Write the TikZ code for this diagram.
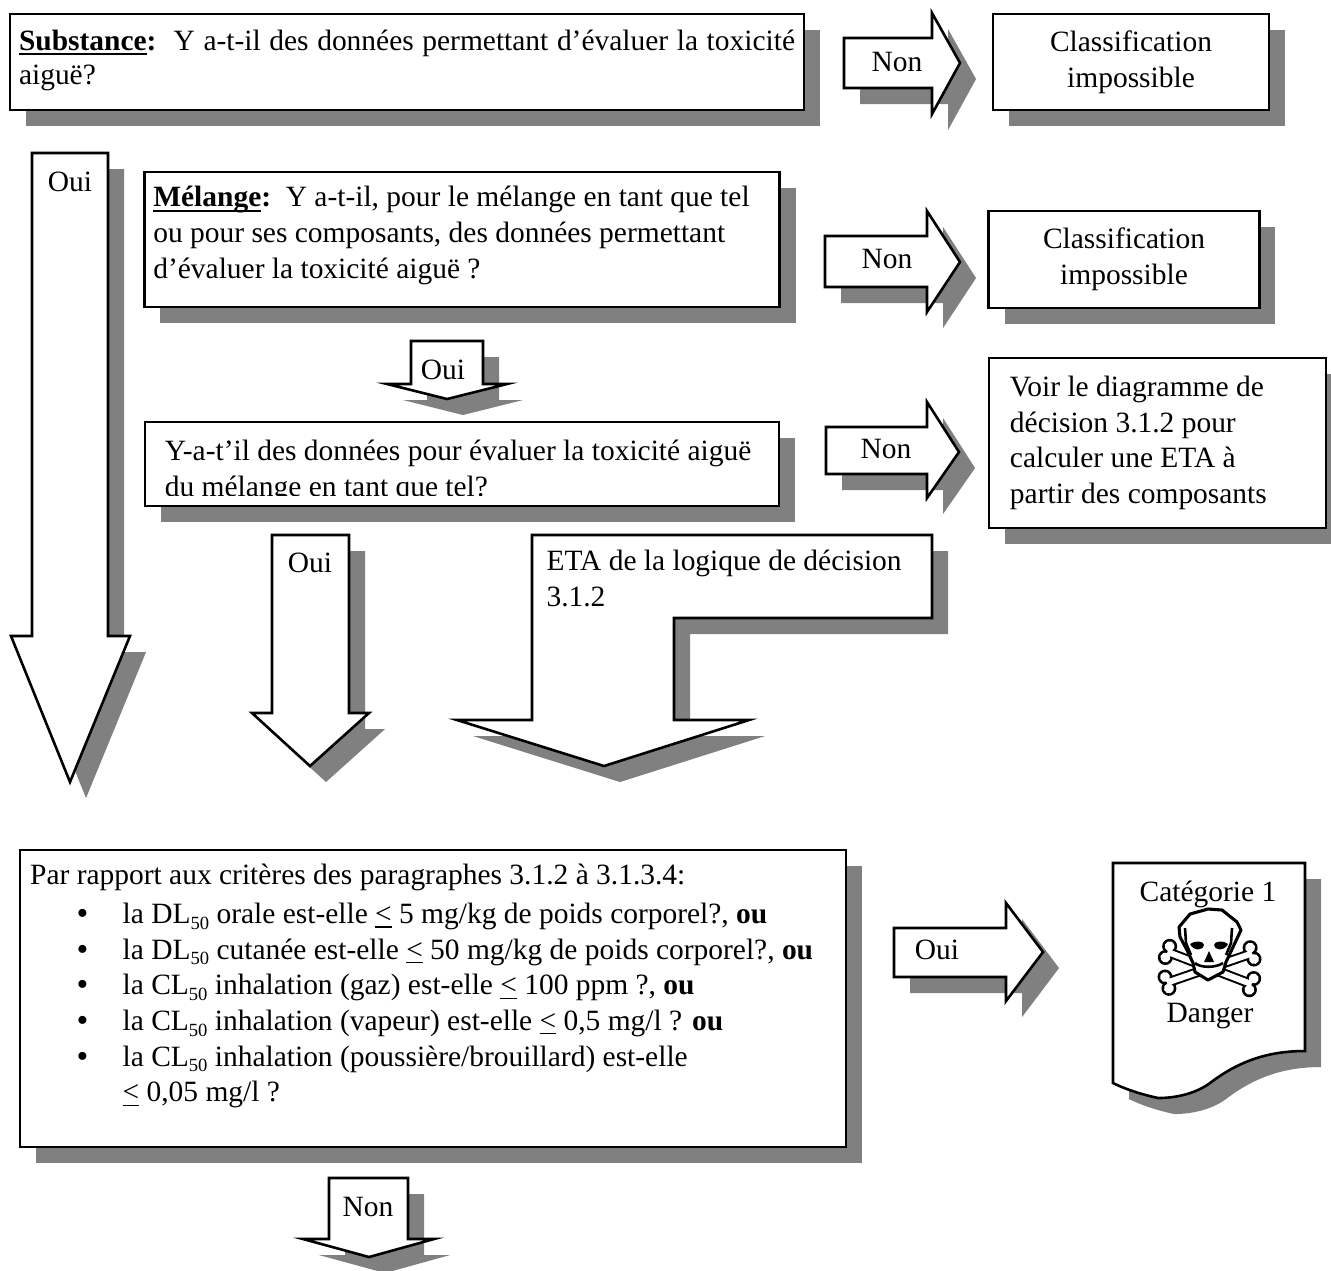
\documentclass[tikz,border=0pt]{standalone}
\usepackage{fontspec}
\setmainfont{Liberation Serif}
\usepackage{tikz}
\usepackage{xcolor}
\definecolor{ombre}{HTML}{808080}
\newcommand{\puce}{\hspace*{18pt}\makebox[17.8pt][l]{\raisebox{-0.4pt}{\fontsize{13}{13}\selectfont\textbullet}}}
\newcommand{\sous}[1]{\raisebox{-2.2pt}{\fontsize{7.2}{8}\selectfont #1}}
\newcommand{\souligne}[1]{\setbox0\hbox{\textbf{#1}}\rlap{\rule[-2pt]{\wd0}{0.8pt}}\box0}
\tikzset{
    ombrage/.style={preaction={fill=ombre,draw=none,transform canvas={shift={(6.2pt,-6.2pt)}}}},
    fleche/.style={draw,line width=1pt,fill=white,line join=miter,ombrage},
    boite/.style={draw,rectangle,line width=1pt,fill=white,ombrage,inner ysep=0pt,font=\fontsize{11.4}{13.8}\selectfont},
    libelle/.style={anchor=base,inner sep=0pt,font=\fontsize{11.4}{13.8}\selectfont}
}

\begin{document}
\begin{tikzpicture}[x=0.387pt,y=-0.387pt]
            \useasboundingbox (0,0) rectangle (1331,1270);

            \node[boite, minimum width=307.3pt, minimum height=37.2pt, inner xsep=3.5pt, text width=300.3pt, align=flush left] (substance) at (407,62) {\makebox[300.3pt][s]{\souligne{Substance}\textbf{:}\ \ Y a-t-il des données permettant d’évaluer la toxicité}\\[-0.6pt]aiguë?\rule[-4pt]{0pt}{4pt}};
            \draw[fleche] (844,38) -- (932,38) -- (932,13) -- (960,63) -- (932,114) -- (932,88) -- (844,88) -- cycle;
            \node[libelle] (non1) at (897,71) {Non};
            \node[boite, minimum width=106.8pt, minimum height=37.2pt, text width=100pt, align=center] (impossible1) at (1131,62) {Classification\\impossible};

            \draw[fleche] (32,153) -- (108,153) -- (108,636) -- (130,636) -- (70,782) -- (11,636) -- (32,636) -- cycle;
            \node[libelle] (oui1) at (70,191) {Oui};

            \node[boite, minimum width=245.9pt, minimum height=52.2pt, inner xsep=3.5pt, text width=238.9pt, align=flush left] (melange) at (462,239.5) {\souligne{Mélange}\textbf{:}\ \ Y a-t-il, pour le mélange en tant que tel\\ou pour ses composants, des données permettant\\d’évaluer la toxicité aiguë ?\rule[-5.5pt]{0pt}{5.5pt}};
            \draw[fleche] (825,236) -- (927,236) -- (927,211) -- (960,262) -- (927,312) -- (927,287) -- (825,287) -- cycle;
            \node[libelle] (non2) at (887,268) {Non};
            \node[boite, minimum width=104.5pt, minimum height=37.5pt, text width=98pt, align=center] (impossible2) at (1124,259.5) {Classification\\impossible};

            \draw[fleche] (411,341) -- (483,341) -- (483,384) -- (507,384) -- (447,399) -- (387,384) -- (411,384) -- cycle;
            \node[libelle] (oui2) at (443,379) {Oui};

            \node[boite, minimum width=245.4pt, minimum height=32.5pt, inner xsep=7.7pt, text width=230pt, align=flush left] (donnees) at (462,464) {\rule{0pt}{13.6pt}Y-a-t’il des données pour évaluer la toxicité aiguë\\du mélange en tant que tel?};
            \fill[white] (150,496) rectangle (774,504);
            \draw[fleche] (826,427) -- (927,427) -- (927,402) -- (959,452) -- (927,498) -- (927,474) -- (826,474) -- cycle;
            \node[libelle] (non3) at (886,458) {Non};
            \node[boite, minimum width=130.4pt, minimum height=65.8pt, inner xsep=8.1pt, text width=114.2pt, align=flush left] (diagramme) at (1157.5,443) {Voir le diagramme de\\décision 3.1.2 pour\\calculer une ETA à\\partir des composants};

            \draw[fleche] (272,535) -- (349,535) -- (349,713) -- (369,713) -- (310,766) -- (252,713) -- (272,713) -- cycle;
            \node[libelle] (oui3) at (310,572) {Oui};
            \draw[fleche] (532,535) -- (932,535) -- (932,618) -- (674,618) -- (674,720) -- (749,720) -- (604,766) -- (457,720) -- (532,720) -- cycle;
            \node[libelle, anchor=north west, align=flush left, yshift=-1pt] (eta) at (546,547) {ETA de la logique de décision\\3.1.2};

            \node[boite, minimum width=319.6pt, minimum height=114.9pt, inner xsep=3.9pt, text width=311.8pt, align=flush left] (criteres) at (433,998.5) {Par rapport aux critères des paragraphes 3.1.2 à 3.1.3.4:\\[1.2pt]
                \puce la DL\sous{50} orale est-elle \underline{<} 5 mg/kg de poids corporel?, \textbf{ou}\\
                \puce la DL\sous{50} cutanée est-elle \underline{<} 50 mg/kg de poids corporel?, \textbf{ou}\\
                \puce la CL\sous{50} inhalation (gaz) est-elle \underline{<} 100 ppm ?, \textbf{ou}\\
                \puce la CL\sous{50} inhalation (vapeur) est-elle \underline{<} 0,5 mg/l ? \textbf{ou}\\
                \puce la CL\sous{50} inhalation (poussière/brouillard) est-elle\\
                \hspace*{35.8pt}\underline{<} 0,05 mg/l ?\rule[-12.1pt]{0pt}{12.1pt}};
            \draw[fleche] (894,928) -- (1006,928) -- (1006,903) -- (1043,952) -- (1006,1001) -- (1006,977) -- (894,977) -- cycle;
            \node[libelle] (oui4) at (937,959) {Oui};

            \draw[fleche] (1113,863) -- (1305,863) -- (1305,1051) .. controls (1270,1051) and (1240,1060) .. (1210,1083) .. controls (1195,1094) and (1175,1098) .. (1158,1098) .. controls (1140,1094) and (1125,1089) .. (1113,1083) -- cycle;
            \node[libelle] (categorie) at (1208,901) {Catégorie 1};
            \node[libelle] (danger) at (1210,1022) {Danger};

            \foreach \ang in {-21,19} {
                \begin{scope}[shift={(1209.5,968)},rotate=\ang]
                    \fill[black] (-44,-5) rectangle (44,5);
                    \foreach \sx in {-45,45} {
                        \fill[black] (\sx,-6) circle (7.5);
                        \fill[black] (\sx,6) circle (7.5);
                    }
                    \foreach \sx in {-45,45} {
                        \fill[white] (\sx,-6) circle (5);
                        \fill[white] (\sx,6) circle (5);
                    }
                    \fill[white] (-45,-3) rectangle (45,3);
                \end{scope}
            }
            \draw[line width=1.2pt, fill=white, line join=round] (1208,909) -- (1222,910) -- (1237,922) -- (1241,930) -- (1233,947) -- (1226,962) -- (1223,972) -- (1208,980) -- (1195,972) -- (1193,963) -- (1187,950) -- (1180,937) -- (1179,927) -- (1190,914) -- cycle;
            \draw[line width=1pt] (1185,928) -- (1186,943) -- (1191,955);
            \draw[line width=1pt] (1232,928) -- (1231,943) -- (1226,955);
            \draw[line width=1pt] (1195,963) .. controls (1200,968) and (1216,968) .. (1223,963);
            \fill[black] (1190,944) .. controls (1195,940) and (1204,941) .. (1204,945) .. controls (1204,950) and (1194,952) .. (1190,944) -- cycle;
            \fill[black] (1214,945) .. controls (1214,941) and (1224,940) .. (1228,944) .. controls (1224,952) and (1214,950) .. (1214,945) -- cycle;
            \fill[black] (1209,951) -- (1214,962) -- (1204,962) -- cycle;

            \draw[fleche] (329,1178) -- (408,1178) -- (408,1239) -- (434,1239) -- (369,1257) -- (303,1239) -- (329,1239) -- cycle;
            \node[libelle] (non4) at (368,1216) {Non};
        \end{tikzpicture}
\end{document}
